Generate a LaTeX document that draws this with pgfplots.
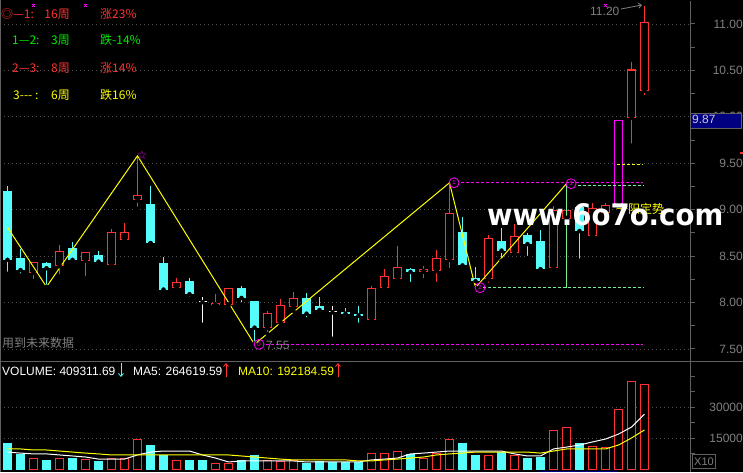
\documentclass[border=0pt]{standalone}
\usepackage{pgfplots}
\pgfplotsset{compat=1.18}
\usepackage{pgfplotstable}
\usepackage{graphicx}
\usepackage{fontspec}
\usetikzlibrary{arrows.meta}
\setmainfont{Liberation Sans}
\newfontfamily\cjk{Noto Sans CJK SC}
\newfontfamily\djv{DejaVu Sans}
\newcommand\lf{\cjk\fontsize{12}{12}\selectfont}
\newcommand\nf{\fontsize{12}{12}\selectfont}

\definecolor{kred}{RGB}{255,50,50}
\definecolor{kcyan}{RGB}{84,252,252}
\definecolor{kyel}{RGB}{255,255,0}
\definecolor{kmag}{RGB}{255,0,255}
\definecolor{kgrn}{RGB}{0,235,0}
\definecolor{kpale}{RGB}{120,240,150}
\definecolor{kgrey}{RGB}{128,128,128}
\definecolor{kaxis}{RGB}{96,96,96}
\definecolor{kgrid}{RGB}{80,80,80}
\definecolor{knavy}{RGB}{0,0,128}

% rising days: x open close high low
\pgfplotstableread{
x open close high low
3 8.32 8.44 8.44 8.23
5 8.39 8.56 8.62 8.28
7 8.45 8.54 8.54 8.26
9 8.40 8.76 8.79 8.40
10 8.67 8.76 8.86 8.65
11 9.10 9.16 9.58 9.01
14 8.16 8.22 8.26 8.16
17 7.97 8.00 8.09 7.94
18 7.97 8.16 8.16 7.93
21 7.73 7.89 7.91 7.66
22 7.78 7.97 8.04 7.75
23 7.95 8.05 8.11 7.91
29 7.81 8.16 8.18 7.81
30 8.16 8.29 8.36 8.15
31 8.25 8.38 8.61 8.25
33 8.33 8.36 8.39 8.24
34 8.34 8.48 8.57 8.20
35 8.46 8.96 9.29 8.35
38 8.25 8.70 8.73 8.19
40 8.53 8.72 8.85 8.53
43 8.37 9.00 9.04 8.33
44 8.90 9.00 9.00 8.90
46 8.72 9.02 9.07 8.72
47 8.96 9.05 9.07 8.86
49 9.99 10.51 10.59 9.69
50 10.28 11.02 11.19 10.21
}\upk
% falling days
\pgfplotstableread{
x open close high low
1 9.20 8.46 9.25 8.31
2 8.48 8.35 8.58 8.29
4 8.43 8.37 8.44 8.17
6 8.59 8.46 8.65 8.42
8 8.51 8.44 8.56 8.40
12 9.06 8.64 9.26 8.64
13 8.43 8.14 8.49 8.11
15 8.23 8.09 8.26 8.04
19 8.16 8.05 8.18 7.98
20 8.02 7.73 8.02 7.56
24 8.05 7.88 8.10 7.82
25 7.96 7.92 8.06 7.90
27 7.90 7.88 7.94 7.83
28 7.88 7.86 7.96 7.76
32 8.36 8.33 8.37 8.20
36 8.76 8.40 8.92 8.39
37 8.26 8.23 8.38 8.16
39 8.66 8.56 8.80 8.45
41 8.73 8.63 8.75 8.48
42 8.66 8.36 8.78 8.33
45 9.03 8.77 9.05 8.45
}\downk
\pgfplotstableread{
x open close high low
16 8.01 8.01 8.06 7.76
26 7.90 7.90 7.96 7.61
}\dojik
\pgfplotstableread{
x open close high low
48 9.06 9.97 9.97 9.06
}\limk
% volume
\pgfplotstableread{
x vol
3 5300
5 5300
7 4400
9 5300
10 5300
11 14500
14 3900
17 2900
18 2900
21 3900
22 3400
23 3900
29 7300
30 7500
31 8700
33 5300
34 7300
35 14500
38 6300
40 6300
43 18400
44 20300
46 11100
47 10200
48 28600
49 42100
50 41100
}\upv
\pgfplotstableread{
x vol
1 12100
2 6800
4 3900
6 5300
8 3400
12 11600
13 6300
15 3900
16 3900
19 3900
20 6300
24 2900
25 3600
26 3200
27 3200
28 3200
32 6800
36 12100
37 6300
39 8200
41 5300
42 5800
45 12100
}\downv

\pgfplotsset{
  errline/.style 2 args={only marks, mark=none, error bars/.cd, y dir=plus, y explicit,
    error mark=none, error bar style={draw=#1, line width=#2}},
  panel/.style={scale only axis, width=690pt, xmin=0.4231, xmax=53.500,
    axis x line=none, axis y line*=right,
    axis line style={kaxis, line width=1pt},
    tick style={kaxis, line width=1pt}, tick align=outside,
    major tick length=5pt, minor tick length=5pt,
    ymajorgrids, major grid style={kgrid, line width=0.8pt, dash pattern=on 1pt off 3pt},
    yticklabel style={anchor=east, xshift=48pt, inner sep=0pt, text=kgrey, font=\nf,
      /pgf/number format/assume math mode=true}},
}

\begin{document}
\begin{tikzpicture}[x=1pt,y=1pt]
\fill[black] (0,0) rectangle (743,472);
\useasboundingbox (0,0) rectangle (743,472);

% price panel
\begin{axis}[panel, at={(0,118.5)}, anchor=south west, height=361pt,
  ymin=7.360, ymax=11.248,
  ytick={7.5,8,8.5,9,9.5,10,10.5,11},
  minor ytick={7.75,8.25,8.75,9.25,9.75,10.25,10.75},
  yticklabel style={/pgf/number format/.cd, fixed, fixed zerofill, precision=2}]
% rising candles: wick, red outline, black inside
\addplot[errline={kred}{1pt}] table[x=x, y=low, y error plus expr=\thisrow{high}-\thisrow{low}] {\upk};
\addplot[errline={kred}{9pt}] table[x=x, y=open, y error plus expr=\thisrow{close}-\thisrow{open}] {\upk};
\addplot[errline={black}{7pt}] table[x=x, y expr=\thisrow{open}+0.011, y error plus expr={max(\thisrow{close}-\thisrow{open}-0.022,0)}] {\upk};
% falling candles
\addplot[errline={kcyan}{1pt}] table[x=x, y=low, y error plus expr=\thisrow{high}-\thisrow{low}] {\downk};
\addplot[errline={kcyan}{9pt}] table[x=x, y=close, y error plus expr=\thisrow{open}-\thisrow{close}] {\downk};
% doji
\addplot[errline={white}{1pt}] table[x=x, y=low, y error plus expr=\thisrow{high}-\thisrow{low}] {\dojik};
\addplot[errline={white}{8pt}] table[x=x, y expr=\thisrow{open}-0.006, y error plus expr=0.012] {\dojik};
% limit-up day
\addplot[errline={kmag}{9pt}] table[x=x, y=open, y error plus expr=\thisrow{close}-\thisrow{open}] {\limk};
\addplot[errline={black}{7pt}] table[x=x, y expr=\thisrow{open}+0.011, y error plus expr={max(\thisrow{close}-\thisrow{open}-0.022,0)}] {\limk};
% pale line on day 44
\addplot[kpale, line width=1pt] coordinates {(44,8.16) (44,9.28)};
% support / resistance
\addplot[kmag, line width=1pt, dash pattern=on 3pt off 2pt] coordinates {(20.85,7.55) (49.92,7.55)};
\addplot[kmag, line width=1pt, dash pattern=on 3pt off 2pt] coordinates {(35.85,9.29) (49.92,9.29)};
\addplot[kpale, line width=1pt, dash pattern=on 3pt off 2pt] coordinates {(37.6,8.16) (49.92,8.16)};
\addplot[kpale, line width=1pt, dash pattern=on 3pt off 2pt] coordinates {(44.85,9.26) (49.92,9.26)};
\addplot[kyel, line width=1pt, dash pattern=on 3pt off 2pt] coordinates {(47.9,9.49) (49.92,9.49)};
% zigzag
\addplot[kyel, line width=1pt] coordinates {(1,8.81) (4,8.17) (11,9.58) (20,7.55) (35,9.29) (37,8.16) (44,9.28)};
% turning points
\addplot[only marks, mark=o, mark size=5pt, kmag, line width=0.8pt,
  point meta=explicit symbolic, nodes near coords,
  every node near coord/.append style={anchor=center, inner sep=0pt, text=kmag, font=\fontsize{6}{6}\selectfont}]
  coordinates {(20.35,7.55)[0] (35.35,9.29)[1] (37.35,8.16)[2] (44.35,9.28)[3]};
\addplot[only marks, mark=none, point meta=explicit symbolic, nodes near coords,
  every node near coord/.append style={anchor=center, inner sep=0pt, text=kmag, font=\djv\fontsize{12}{12}\selectfont}]
  coordinates {(11.35,9.59)[☆]};
\addplot[only marks, mark=x, mark size=2pt, kmag, line width=0.8pt] coordinates {(3,11.20) (7,11.20) (47,11.20)};
\end{axis}

% volume panel
\begin{axis}[panel, at={(0,0)}, anchor=south west, height=110pt,
  ymin=-1452, ymax=51774,
  ytick={15000,30000}, minor ytick={7500,22500,37500,45000},
  scaled y ticks=false,
  yticklabel style={/pgf/number format/.cd, fixed, precision=0, 1000 sep={}}]
\addplot[ybar, bar width=8pt, bar shift=0pt, draw=kred, fill=black, line width=1pt] table[x=x, y=vol] {\upv};
\addplot[ybar, bar width=8pt, bar shift=0pt, draw=kcyan, fill=kcyan, line width=1pt] table[x=x, y=vol] {\downv};
% MA5
\addplot[white, line width=1pt] coordinates {(1,8200) (2,7700) (3,7300) (4,7300) (5,6800) (6,6300) (7,5800) (8,4800) (9,4800) (10,4800)
 (11,6800) (12,8200) (13,8700) (14,8700) (15,8700) (16,6800) (17,5300) (18,3400) (19,3900) (20,3900)
 (21,3900) (22,3900) (23,3900) (24,3400) (25,3400) (26,3400) (27,3400) (28,3400) (29,4400) (30,4800)
 (31,5300) (32,7300) (33,7700) (34,8200) (35,8700) (36,8700) (37,8700) (38,8700) (39,8700) (40,7300)
 (41,6300) (42,6300) (43,9700) (44,10600) (45,11600) (46,13100) (47,14500) (48,16900) (49,20300) (50,26600)};
% MA10
\addplot[kyel, line width=1pt] coordinates {(1,9700) (2,9700) (3,9200) (4,9200) (5,8700) (6,8200) (7,7700) (8,7300) (9,6800) (10,6800)
 (11,6800) (12,6800) (13,6800) (14,6800) (15,6800) (16,6800) (17,6800) (18,6800) (19,6300) (20,5800)
 (21,5300) (22,4800) (23,4400) (24,4400) (25,4400) (26,4400) (27,4400) (28,3900) (29,3900) (30,4400)
 (31,4800) (32,5300) (33,5800) (34,6800) (35,7300) (36,7700) (37,8200) (38,8200) (39,8200) (40,8200)
 (41,8200) (42,7700) (43,8700) (44,9700) (45,9700) (46,9700) (47,9700) (48,11600) (49,15000) (50,18900)};
\end{axis}

% frame lines
\draw[kaxis, line width=1pt] (0,110.5) -- (743,110.5);
\draw[kaxis, line width=1pt] (0.5,0) -- (0.5,472);

% last price box
\fill[knavy] (690,344) rectangle (741,359);
\draw[kaxis, line width=0.6pt] (690,344) rectangle (741,359);
\node[anchor=base west, inner sep=0, text={rgb,255:red,200;green,200;blue,210}, font=\nf] at (692,348) {9.87};
\fill[kred] (740,318) rectangle (743,320);

% X10 box
\draw[kaxis, line width=0.8pt] (692,4) rectangle (715,18);
\node[anchor=base west, inner sep=0, text=kgrey, font=\fontsize{11}{11}\selectfont] at (694,6.5) {X10};
\fill[knavy] (540,0) rectangle (618,1.5);

% wave statistics
\node[anchor=base west, inner sep=0, text=kred, font=\lf] at (1,453) {◎—1:};
\node[anchor=base east, inner sep=0, text=kred, font=\lf] at (70,453) {16周};
\node[anchor=base west, inner sep=0, text=kred, font=\lf] at (100,453) {涨23\%};
\node[anchor=base west, inner sep=0, text=kgrn, font=\lf] at (12,427) {1—2:};
\node[anchor=base east, inner sep=0, text=kgrn, font=\lf] at (70,427) {3周};
\node[anchor=base west, inner sep=0, text=kgrn, font=\lf] at (100,427) {跌-14\%};
\node[anchor=base west, inner sep=0, text=kred, font=\lf] at (12,399) {2—3:};
\node[anchor=base east, inner sep=0, text=kred, font=\lf] at (70,399) {8周};
\node[anchor=base west, inner sep=0, text=kred, font=\lf] at (100,399) {涨14\%};
\node[anchor=base west, inner sep=0, text=kyel, font=\lf] at (13,372) {3--- :};
\node[anchor=base east, inner sep=0, text=kyel, font=\lf] at (70,372) {6周};
\node[anchor=base west, inner sep=0, text=kyel, font=\lf] at (100,372) {跌16\%};

% chart notes
\node[anchor=base west, inner sep=0, text=kgrey, font=\lf] at (2,125) {用到未来数据};
\node[anchor=base west, inner sep=0, text=kgrey, font=\nf] at (266,123) {7.55};
\node[anchor=base west, inner sep=0, text=kgrey, font=\nf] at (590,456) {11.20};
\draw[kgrey, line width=0.8pt, -{Straight Barb[length=3pt,width=5pt]}] (621,463) -- (642,467);
\node[anchor=base west, inner sep=0, text=kyel, font=\lf] at (616,259) {一阳定势};

% volume header
\node[anchor=base west, inner sep=0, text=white, font=\nf] at (2,97) {VOLUME: 409311.69};
\draw[kcyan, line width=0.8pt, -{Straight Barb[length=3pt,width=5pt]}] (121,109) -- (121,95);
\node[anchor=base west, inner sep=0, text=white, font=\nf] at (133,97) {MA5: 264619.59};
\draw[kred, line width=0.8pt, -{Straight Barb[length=3pt,width=5pt]}] (226,95) -- (226,109);
\node[anchor=base west, inner sep=0, text=kyel, font=\nf] at (238,97) {MA10: 192184.59};
\draw[kred, line width=0.8pt, -{Straight Barb[length=3pt,width=5pt]}] (338,95) -- (338,109);

% watermark
\node[anchor=base west, inner sep=0, text=white] at (487,247) {\resizebox{236pt}{22pt}{\djv\bfseries www.6o7o.com}};
\end{tikzpicture}
\end{document}
